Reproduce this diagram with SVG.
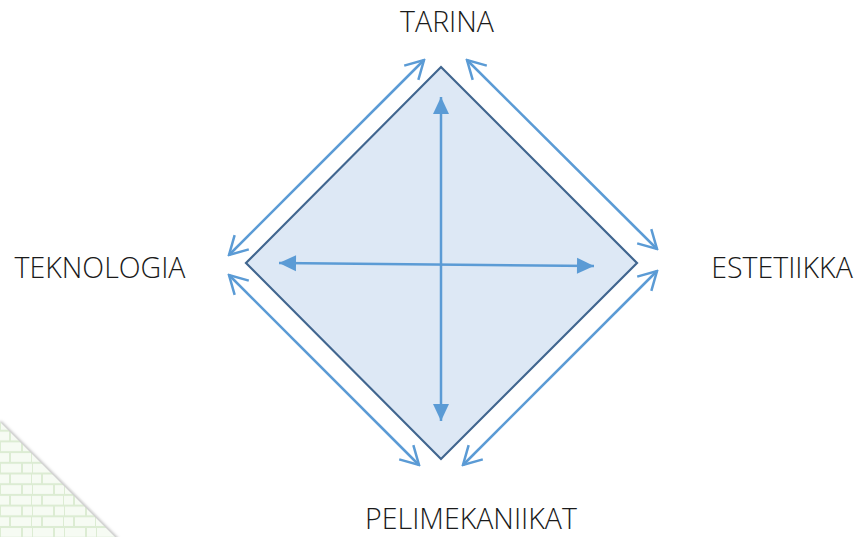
<svg xmlns="http://www.w3.org/2000/svg" width="854" height="537" viewBox="0 0 854 537">
  <defs>
    <style>
      .label { font-family: "Open Sans", "Liberation Sans", sans-serif; font-weight: 300; font-size: 28.5px; fill: #1a1a1a; }
      .side { fill: none; stroke: #5b9bd5; stroke-width: 2.5; marker-start: url(#open); marker-end: url(#open); }
      .axis { fill: none; stroke: #5b9bd5; stroke-width: 2.5; marker-start: url(#solid); marker-end: url(#solid); }
    </style>
    <marker id="open" markerUnits="userSpaceOnUse" viewBox="-22 -12 24 24" markerWidth="24" markerHeight="24" refX="0" refY="0" orient="auto-start-reverse">
      <path d="M -18 -10 L 0 0 L -18 10" fill="none" stroke="#5b9bd5" stroke-width="2.5" stroke-linejoin="miter"/>
    </marker>
    <marker id="solid" markerUnits="userSpaceOnUse" viewBox="-18 -9 19 18" markerWidth="19" markerHeight="18" refX="0" refY="0" orient="auto-start-reverse">
      <path d="M -17 -8 L 0 0 L -17 8 Z" fill="#5b9bd5"/>
    </marker>
    <pattern id="bricks" patternUnits="userSpaceOnUse" x="0" y="420" width="32" height="21.4">
      <rect width="32" height="21.4" fill="#dcecd3"/>
      <rect x="1" y="1" width="20" height="8.7" fill="#f6fbf3"/>
      <rect x="23" y="1" width="9" height="8.7" fill="#f6fbf3"/>
      <rect x="0" y="11.7" width="9" height="8.7" fill="#f6fbf3"/>
      <rect x="11" y="11.7" width="20" height="8.7" fill="#f6fbf3"/>
    </pattern>
    <filter id="soft" x="-20%" y="-20%" width="140%" height="140%">
      <feGaussianBlur stdDeviation="1.5"/>
    </filter>
  </defs>

  <!-- corner wall texture -->
  <g id="corner">
    <line x1="0" y1="422" x2="118" y2="540" stroke="#9a9a9a" stroke-width="3" filter="url(#soft)" opacity="0.7"/>
    <polygon points="0,422 118,540 0,540" fill="url(#bricks)"/>
  </g>

  <!-- central diamond -->
  <g id="diamond">
    <polygon points="441,67 637,263 441,459 246,263" fill="#dde8f5" stroke="#41668f" stroke-width="2.2"/>
  </g>

  <g id="connectors">
    <line class="axis" x1="441" y1="97" x2="441" y2="421"/>
    <line class="axis" x1="279" y1="263" x2="594" y2="266"/>
    <line class="side" x1="229" y1="255" x2="424" y2="60"/>
    <line class="side" x1="467" y1="60" x2="657" y2="249"/>
    <line class="side" x1="657" y1="271" x2="463" y2="465"/>
    <line class="side" x1="229" y1="275" x2="419" y2="465"/>
  </g>

  <g id="tarina"><text class="label" x="447" y="32" text-anchor="middle">TARINA</text></g>
  <g id="teknologia"><text class="label" x="100" y="278" text-anchor="middle">TEKNOLOGIA</text></g>
  <g id="estetiikka"><text class="label" x="782" y="278" text-anchor="middle">ESTETIIKKA</text></g>
  <g id="pelimekaniikat"><text class="label" x="471" y="529" text-anchor="middle">PELIMEKANIIKAT</text></g>
</svg>
